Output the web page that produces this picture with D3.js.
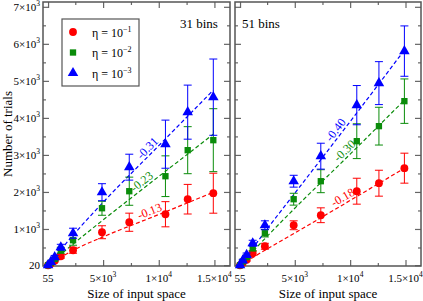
<!DOCTYPE html>
<html>
<head>
<meta charset="utf-8">
<script src="https://cdn.jsdelivr.net/npm/d3@7"></script>
<style>
  body { margin: 0; background: #fff; }
  svg { display: block; }
</style>
</head>
<body>
<div id="chart"></div>
<script>
const width = 423;
const height = 301;

// sizes of input space (x)
const sizes = [55, 300, 650, 1200, 2300, 4900, 7350, 10600, 12600, 14900];

// 31 bins
const left1 = [20, 70, 140, 263, 425, 912, 1182, 1398, 1804, 1966];
const left1Err = [5, 15, 25, 50, 80, 175, 245, 340, 400, 540];
const left2 = [20, 90, 190, 425, 696, 1560, 2020, 2425, 3128, 3398];
const left2Err = [5, 20, 35, 80, 135, 190, 380, 550, 635, 850];
const left3 = [20, 110, 240, 506, 885, 1993, 2669, 3290, 4155, 4560];
const left3Err = [5, 25, 45, 80, 135, 230, 350, 650, 730, 1030];

// 51 bins
const right1 = [20, 90, 170, 344, 533, 1100, 1371, 2020, 2236, 2642];
const right1Err = [5, 20, 35, 60, 80, 120, 200, 350, 350, 405];
const right2 = [20, 120, 240, 480, 885, 1804, 2290, 3371, 3777, 4452];
const right2Err = [5, 25, 45, 70, 100, 160, 310, 470, 510, 600];
const right3 = [20, 150, 300, 615, 1100, 2290, 2966, 4344, 4939, 5804];
const right3Err = [5, 30, 50, 80, 120, 160, 350, 530, 580, 680];

// fitted curves
const fitX = [55, 2500, 5000, 10000, 14900];
const fitLeft1 = [20, 452, 787, 1390, 1990];
const fitLeft2 = [20, 641, 1244, 2417, 3560];
const fitLeft3 = [20, 900, 1720, 3250, 4750];
const fitRight1 = [20, 460, 890, 1770, 2640];
const fitRight2 = [20, 800, 1560, 3020, 4480];
const fitRight3 = [20, 1000, 1966, 3900, 5830];

const slopesLeft = ["-0.13", "-0.23", "-0.31"];
const slopesRight = ["-0.18", "-0.30", "-0.40"];

const etaLabels = ["\u22121", "\u22122", "\u22123"];
const colors = ["#ff0000", "#0a8c0a", "#0000ff"];

// ticks
const xMajor = [55, 5000, 10000, 15000];
const xMajorLabels = [["55", ""], ["5\u00d710", "3"], ["1\u00d710", "4"], ["1.5\u00d710", "4"]];
const xMinor = [2500, 7500, 12500];
const yMajor = [20, 1000, 2000, 3000, 4000, 5000, 6000, 7000];
const yMajorLabels = [["20", ""], ["1\u00d710", "3"], ["2\u00d710", "3"], ["3\u00d710", "3"],
  ["4\u00d710", "3"], ["5\u00d710", "3"], ["6\u00d710", "3"], ["7\u00d710", "3"]];
const yMinor = [500, 1500, 2500, 3500, 4500, 5500, 6500];

const FONT = "'Liberation Serif', 'DejaVu Serif', serif";

const svg = d3.select("#chart").append("svg")
  .attr("width", width).attr("height", height)
  .style("font-family", FONT);

const y = d3.scaleLinear().domain([0, 7130]).range([266, 2]);

const panels = [
  { x0: 43, x1: 230, title: "31 bins", titleX: 180, labels: true,
    series: [[left1, left1Err, fitLeft1], [left2, left2Err, fitLeft2], [left3, left3Err, fitLeft3]],
    slopes: slopesLeft,
    slopeAt: [9400, 8830, 9390] },
  { x0: 235, x1: 421, title: "51 bins", titleX: 242, labels: false,
    series: [[right1, right1Err, fitRight1], [right2, right2Err, fitRight2], [right3, right3Err, fitRight3]],
    slopes: slopesRight,
    slopeAt: [9630, 9900, 9150] }
];

function addSup(sel, parts, supSize) {
  sel.text(null);
  sel.append("tspan").text(parts[0]);
  if (parts[1]) {
    sel.append("tspan").attr("font-size", supSize).attr("dy", -5).text(parts[1]);
  }
}

const symbols = [d3.symbolCircle, d3.symbolSquare, d3.symbolTriangle];
const symSizes = [48, 40, 48];

panels.forEach(p => {
  const x = d3.scaleLinear().domain([-400, 16400]).range([p.x0, p.x1]);
  const g = svg.append("g");

  const tickStyle = sel => sel.call(s => s.select(".domain").remove())
    .selectAll("line").attr("stroke", "#666").attr("stroke-width", 1.2);

  const axes = [
    [d3.axisBottom(x), xMajor, xMinor, `translate(0,${y.range()[0]})`],
    [d3.axisTop(x), xMajor, xMinor, `translate(0,${y.range()[1]})`],
    [d3.axisLeft(y), yMajor, yMinor, `translate(${p.x0},0)`],
    [d3.axisRight(y), yMajor, yMinor, `translate(${p.x1},0)`]
  ];
  axes.forEach(([ax, maj, min, tr]) => {
    g.append("g").attr("transform", tr)
      .call(ax.tickValues(maj).tickSize(-6).tickFormat(""))
      .call(tickStyle);
    g.append("g").attr("transform", tr)
      .call(ax.tickValues(min).tickSize(-3).tickFormat(""))
      .call(tickStyle);
  });

  g.append("rect")
    .attr("x", p.x0).attr("y", y.range()[1])
    .attr("width", p.x1 - p.x0).attr("height", y.range()[0] - y.range()[1])
    .attr("fill", "none").attr("stroke", "#555").attr("stroke-width", 1.5);

  g.selectAll(".xl").data(xMajor).join("text")
    .attr("x", d => x(d)).attr("y", 282)
    .attr("text-anchor", "middle").attr("font-size", 11)
    .each(function(d, i) { addSup(d3.select(this), xMajorLabels[i], 7.5); });

  if (p.labels) {
    g.selectAll(".yl").data(yMajor).join("text")
      .attr("x", p.x0 - 3).attr("y", d => y(d) + 4)
      .attr("text-anchor", "end").attr("font-size", 11)
      .each(function(d, i) { addSup(d3.select(this), yMajorLabels[i], 7.5); });
  }

  svg.append("text")
    .attr("x", (p.x0 + p.x1) / 2).attr("y", 298)
    .attr("text-anchor", "middle").attr("font-size", 13)
    .text("Size of input space");

  g.append("text").attr("x", p.titleX).attr("y", 28)
    .attr("font-size", 13).text(p.title);

  const line = d3.line().x((d, i) => x(fitX[i])).y(d => y(d)).curve(d3.curveMonotoneX);
  p.series.forEach(([vals, errs, fit], k) => {
    g.append("path").attr("d", line(fit))
      .attr("fill", "none").attr("stroke", colors[k])
      .attr("stroke-width", 1.2).attr("stroke-dasharray", "4,2.5");
  });

  // slope labels, laid along each fit just above it
  p.series.forEach(([vals, errs, fit], k) => {
    const lx = p.slopeAt[k];
    const j = d3.bisectRight(fitX, lx) - 1;
    const x0 = x(fitX[j]), x1 = x(fitX[j + 1]);
    const y0 = y(fit[j]), y1 = y(fit[j + 1]);
    const t = (x(lx) - x0) / (x1 - x0);
    const ang = Math.atan2(y1 - y0, x1 - x0) * 180 / Math.PI;
    g.append("text")
      .attr("transform", `translate(${x(lx)},${y0 + t * (y1 - y0)}) rotate(${ang})`)
      .attr("text-anchor", "middle").attr("dy", -2.5)
      .attr("font-size", 12).attr("fill", colors[k])
      .text(p.slopes[k]);
  });

  p.series.forEach(([vals, errs], k) => {
    const c = colors[k];
    const eg = g.append("g").attr("stroke", c).attr("stroke-width", 1);
    sizes.forEach((s, i) => {
      const cx = x(s), top = y(vals[i] + errs[i]), bot = y(vals[i] - errs[i]);
      eg.append("line").attr("x1", cx).attr("x2", cx).attr("y1", top).attr("y2", bot);
      eg.append("line").attr("x1", cx - 4).attr("x2", cx + 4).attr("y1", top).attr("y2", top);
      eg.append("line").attr("x1", cx - 4).attr("x2", cx + 4).attr("y1", bot).attr("y2", bot);
    });
    g.selectAll(null).data(sizes).join("path")
      .attr("transform", (s, i) => `translate(${x(s)},${y(vals[i])})`)
      .attr("d", d3.symbol().type(symbols[k]).size(symSizes[k]))
      .attr("fill", c);
  });
});

svg.append("text")
  .attr("transform", "translate(12,134) rotate(-90)")
  .attr("text-anchor", "middle").attr("font-size", 13)
  .text("Number of trials");

const leg = svg.append("g");
leg.append("rect").attr("x", 62).attr("y", 19).attr("width", 77).attr("height", 67)
  .attr("fill", "#fff").attr("stroke", "#555").attr("stroke-width", 1.2);
symbols.forEach((sym, k) => {
  const ly = 32 + k * 20.5;
  leg.append("path").attr("transform", `translate(73,${ly})`)
    .attr("d", d3.symbol().type(sym).size(symSizes[k])).attr("fill", colors[k]);
  const t = leg.append("text").attr("x", 92).attr("y", ly + 4.5).attr("font-size", 12);
  t.append("tspan").text("\u03b7 = 10");
  t.append("tspan").attr("font-size", 8).attr("dy", -5).text(etaLabels[k]);
});
</script>
</body>
</html>
